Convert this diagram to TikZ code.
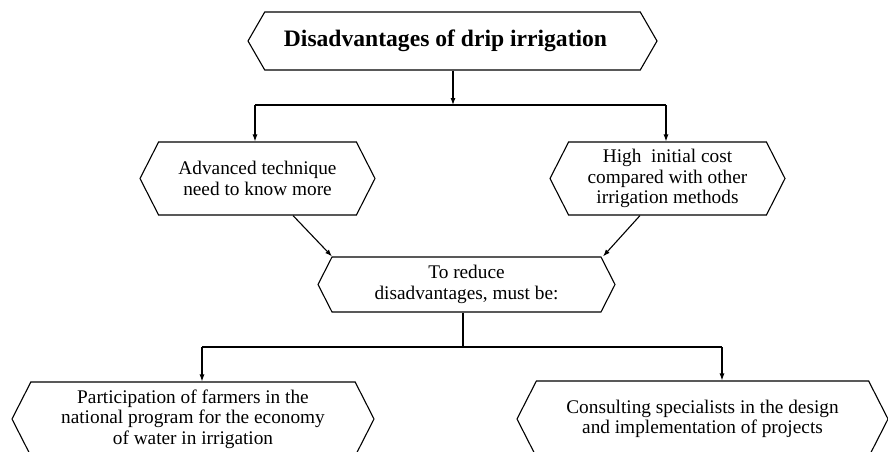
\documentclass[tikz,border=0pt]{standalone}
\usepackage{fontspec}
\setmainfont{Liberation Serif}
\usepackage{tikz}
\usetikzlibrary{arrows.meta,calc,shapes.symbols}
\tikzset{
  hexbox/.style={
    shape=signal,
    signal to=east and west,
    signal pointer angle=126,
    draw=black,
    line width=1.1pt,
    fill=white,
    align=center,
    inner xsep=0pt,
    inner ysep=0pt,
    font=\fontsize{19.3}{20.5}\selectfont
  },
  titlebox/.style={
    hexbox,
    signal pointer angle=120,
    font=\fontsize{23.6}{28}\selectfont\bfseries
  },
  flow/.style={line width=1.1pt, draw=black, -{Latex[length=7pt,width=5pt]}},
  link/.style={line width=1.1pt, draw=black}
}

\begin{document}
\begin{tikzpicture}[x=1pt,y=-1pt]
\useasboundingbox (0,0) rectangle (888,452);
\fill[white] (0,0) rectangle (888,452);
\clip (0,0) rectangle (888,452);

\node[titlebox, minimum width=409pt, minimum height=58pt] (title) at (452.5,41) {Disadvantages of drip irrigation\hspace{14pt}};

\node[hexbox, minimum width=235pt, minimum height=73pt] (adv) at (257.5,178.5) {Advanced technique\\need to know more};
\node[hexbox, minimum width=235pt, minimum height=73pt] (cost) at (667.5,178.5) {High~ initial cost\\compared with other\\irrigation methods};

\node[hexbox, minimum width=297pt, minimum height=55pt] (reduce) at (466.5,284.5) {To reduce\\disadvantages, must be:};

\node[hexbox, minimum width=362pt, minimum height=74pt] (farm) at (193,419) {Participation of farmers in the\\national program for the economy\\of water in irrigation};
\node[hexbox, minimum width=371pt, minimum height=76pt] (cons) at (702.5,419) {Consulting specialists in the design\\and implementation of projects};

\coordinate (topsplit) at (453,105);
\coordinate (topleft) at (255,105);
\coordinate (topright) at (666,105);
\coordinate (lowsplit) at (463,347);
\coordinate (lowleft) at (202,347);
\coordinate (lowright) at (722,347);

\draw[flow] (title.south -| topsplit) -- (topsplit);
\draw[link] (topleft) -- (topright);
\draw[flow] (topleft) -- (topleft |- adv.north);
\draw[flow] (topright) -- (topright |- cost.north);

\draw[flow] ([xshift=35.5pt]adv.south) -- ([xshift=-134.5pt]reduce.north);
\draw[flow] ([xshift=-27.5pt]cost.south) -- ([xshift=136.5pt]reduce.north);

\draw[link] (reduce.south -| lowsplit) -- (lowsplit);
\draw[link] (lowleft) -- (lowright);
\draw[flow] (lowleft) -- (lowleft |- farm.north);
\draw[flow] (lowright) -- (lowright |- cons.north);

\end{tikzpicture}
\end{document}
